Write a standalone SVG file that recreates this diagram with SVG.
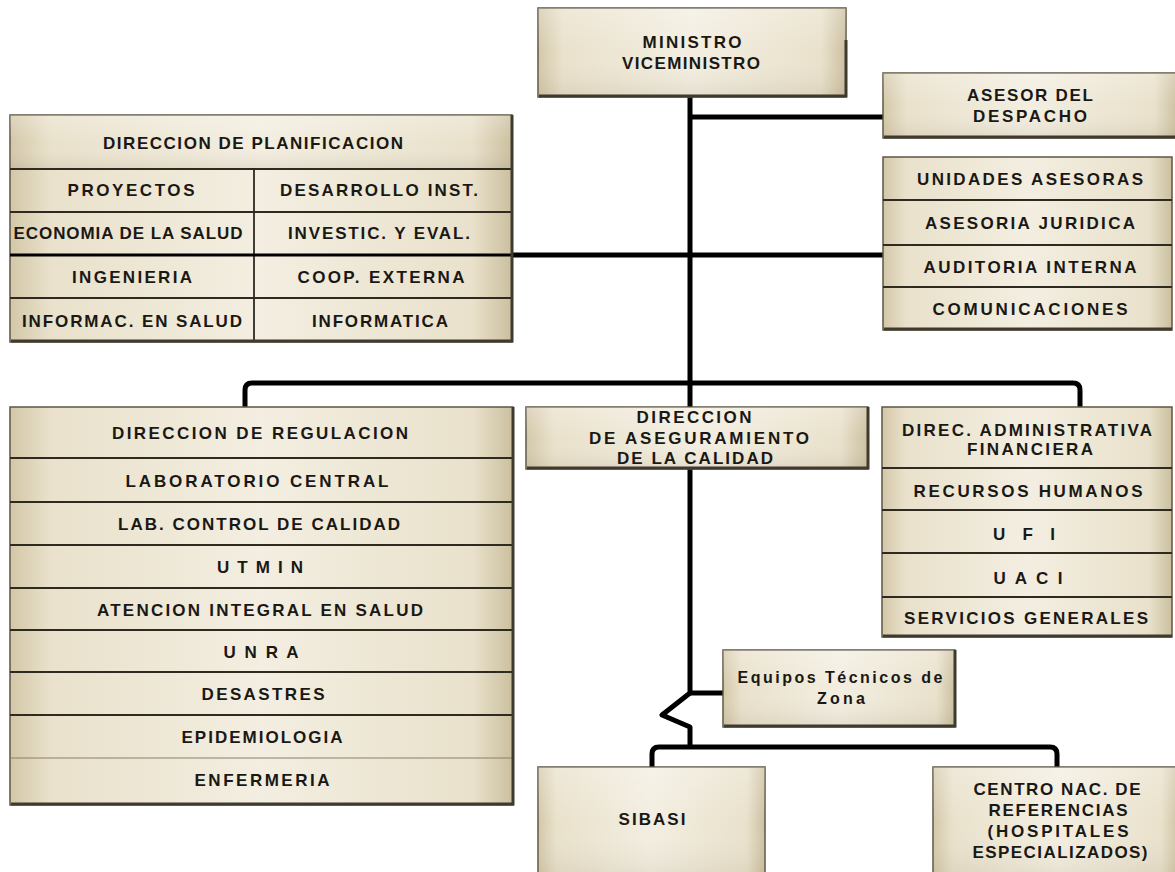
<svg xmlns="http://www.w3.org/2000/svg" width="1175" height="872" viewBox="0 0 1175 872">
<defs>
<linearGradient id="g" x1="0" y1="0" x2="1" y2="0">
<stop offset="0" stop-color="#d3c7a8"/>
<stop offset="0.08" stop-color="#e9e1cb"/>
<stop offset="0.5" stop-color="#f3eee1"/>
<stop offset="0.92" stop-color="#e9e1cb"/>
<stop offset="1" stop-color="#cbbf9e"/>
</linearGradient>
<linearGradient id="gv" x1="0" y1="0" x2="0" y2="1">
<stop offset="0" stop-color="#ffffff" stop-opacity="0.25"/>
<stop offset="0.5" stop-color="#ffffff" stop-opacity="0"/>
<stop offset="1" stop-color="#8a7c5c" stop-opacity="0.15"/>
</linearGradient>
</defs>
<style>
.box{fill:url(#g);stroke:#5e5544;stroke-width:1.5}
.sh{fill:url(#gv);stroke:none}
.bot{stroke:#3f3a2e;stroke-width:3;fill:none}
.div{stroke:#2e2a20;stroke-width:1.8;fill:none}
.t{font-family:"Liberation Sans Narrow","Liberation Sans",Arial,sans-serif;font-weight:bold;font-size:17px;fill:#1a1814;text-anchor:middle}
.c{stroke:#000;stroke-width:5;fill:none;stroke-linejoin:round}
</style>
<rect width="1175" height="872" fill="#ffffff"/>

<g id="connectors">
<path class="c" d="M690 97 V408"/>
<path class="c" d="M690 117 H883"/>
<path class="c" d="M10 255 H883" stroke-width="3.5"/>
<path class="c" d="M245 408 V390 Q245 383 252 383 H1073 Q1080 383 1080 390 V408"/>
<path class="c" d="M690 469 V693 L662 715 L690 727 V747"/>
<path class="c" d="M690 693 H723"/>
<path class="c" d="M652 767 V754 Q652 747 659 747 H1050 Q1057 747 1057 754 V767"/>
</g>

<g id="ministro">
<rect class="box" x="538" y="8" width="308" height="89"/>
<rect class="sh" x="538" y="8" width="308" height="89"/>
<path class="bot" d="M539 96 H846 V40"/>
<text class="t" x="692" y="48" textLength="99" lengthAdjust="spacing">MINISTRO</text>
<text class="t" x="691" y="69" textLength="138" lengthAdjust="spacing">VICEMINISTRO</text>
</g>

<g id="asesor">
<rect class="box" x="883" y="73" width="295" height="65"/>
<rect class="sh" x="883" y="73" width="295" height="65"/>
<path class="bot" d="M884 137 H1178"/>
<text class="t" x="1030" y="101" textLength="126" lengthAdjust="spacing">ASESOR DEL</text>
<text class="t" x="1030" y="122" textLength="114" lengthAdjust="spacing">DESPACHO</text>
</g>

<g id="planificacion">
<rect class="box" x="10" y="115" width="502" height="227"/>
<rect class="sh" x="10" y="115" width="502" height="54"/>
<path class="div" d="M10 169 H512 M10 212 H512 M10 298 H512 M254 169 V342"/>
<path d="M10 255 H512" stroke="#000" stroke-width="3" fill="none"/>
<path class="bot" d="M11 341 H512 V115"/>
<text class="t" x="253" y="149" textLength="300" lengthAdjust="spacing">DIRECCION DE PLANIFICACION</text>
<text class="t" x="131" y="196" textLength="127" lengthAdjust="spacing">PROYECTOS</text>
<text class="t" x="379" y="196" textLength="198" lengthAdjust="spacing">DESARROLLO INST.</text>
<text class="t" x="128" y="239" textLength="229" lengthAdjust="spacing">ECONOMIA DE LA SALUD</text>
<text class="t" x="379" y="239" textLength="182" lengthAdjust="spacing">INVESTIC. Y EVAL.</text>
<text class="t" x="132" y="283" textLength="120" lengthAdjust="spacing">INGENIERIA</text>
<text class="t" x="381" y="283" textLength="167" lengthAdjust="spacing">COOP. EXTERNA</text>
<text class="t" x="132" y="327" textLength="220" lengthAdjust="spacing">INFORMAC. EN SALUD</text>
<text class="t" x="380" y="327" textLength="136" lengthAdjust="spacing">INFORMATICA</text>
</g>

<g id="unidades">
<rect class="box" x="883" y="157" width="289" height="173"/>
<path class="div" d="M883 200 H1172 M883 245 H1172 M883 287 H1172"/>
<path class="bot" d="M884 329 H1172"/>
<text class="t" x="1030" y="185" textLength="226" lengthAdjust="spacing">UNIDADES ASESORAS</text>
<text class="t" x="1030" y="229" textLength="210" lengthAdjust="spacing">ASESORIA JURIDICA</text>
<text class="t" x="1030" y="273" textLength="213" lengthAdjust="spacing">AUDITORIA INTERNA</text>
<text class="t" x="1030" y="315" textLength="195" lengthAdjust="spacing">COMUNICACIONES</text>
</g>

<g id="regulacion">
<rect class="box" x="10" y="407" width="503" height="398"/>
<path class="div" d="M10 458 H513 M10 502 H513 M10 545 H513 M10 588 H513 M10 630 H513 M10 672 H513 M10 715 H513"/>
<path d="M10 758 H513" stroke="#8a7f68" stroke-width="1" fill="none"/>
<path class="bot" d="M11 804 H513 V407"/>
<text class="t" x="260" y="439" textLength="296" lengthAdjust="spacing">DIRECCION DE REGULACION</text>
<text class="t" x="257" y="487" textLength="263" lengthAdjust="spacing">LABORATORIO CENTRAL</text>
<text class="t" x="259" y="530" textLength="282" lengthAdjust="spacing">LAB. CONTROL DE CALIDAD</text>
<text class="t" x="260" y="573" textLength="86" lengthAdjust="spacing">U T M I N</text>
<text class="t" x="260" y="616" textLength="326" lengthAdjust="spacing">ATENCION INTEGRAL EN SALUD</text>
<text class="t" x="261" y="658" textLength="75" lengthAdjust="spacing">U N R A</text>
<text class="t" x="263" y="700" textLength="123" lengthAdjust="spacing">DESASTRES</text>
<text class="t" x="262" y="743" textLength="161" lengthAdjust="spacing">EPIDEMIOLOGIA</text>
<text class="t" x="262" y="786" textLength="135" lengthAdjust="spacing">ENFERMERIA</text>
</g>

<g id="aseguramiento">
<rect class="box" x="526" y="407" width="342" height="62"/>
<rect class="sh" x="526" y="407" width="342" height="62"/>
<path class="bot" d="M527 468 H868 V407"/>
<text class="t" x="694" y="423" textLength="115" lengthAdjust="spacing">DIRECCION</text>
<text class="t" x="699" y="444" textLength="220" lengthAdjust="spacing">DE  ASEGURAMIENTO</text>
<text class="t" x="695" y="464" textLength="156" lengthAdjust="spacing">DE LA CALIDAD</text>
</g>

<g id="administrativa">
<rect class="box" x="882" y="407" width="290" height="230"/>
<path class="div" d="M882 468 H1172 M882 510 H1172 M882 553 H1172 M882 597 H1172"/>
<path class="bot" d="M883 636 H1172"/>
<text class="t" x="1027" y="436" textLength="250" lengthAdjust="spacing">DIREC. ADMINISTRATIVA</text>
<text class="t" x="1030" y="455" textLength="126" lengthAdjust="spacing">FINANCIERA</text>
<text class="t" x="1028" y="497" textLength="229" lengthAdjust="spacing">RECURSOS HUMANOS</text>
<text class="t" x="1024" y="540" textLength="62" lengthAdjust="spacing">U F I</text>
<text class="t" x="1028" y="584" textLength="69" lengthAdjust="spacing">U A C I</text>
<text class="t" x="1026" y="624" textLength="244" lengthAdjust="spacing">SERVICIOS GENERALES</text>
</g>

<g id="equipos">
<rect class="box" x="723" y="650" width="232" height="77"/>
<rect class="sh" x="723" y="650" width="232" height="77"/>
<path class="bot" d="M724 726 H955 V650"/>
<text class="t" x="840" y="683" textLength="205" lengthAdjust="spacing" style="font-size:16px">Equipos Técnicos de</text>
<text class="t" x="841" y="704" textLength="48" lengthAdjust="spacing" style="font-size:16px">Zona</text>
</g>

<g id="sibasi">
<rect class="box" x="538" y="767" width="227" height="113"/>
<rect class="sh" x="538" y="767" width="227" height="113"/>
<text class="t" x="652" y="825" textLength="67" lengthAdjust="spacing">SIBASI</text>
</g>

<g id="centro">
<rect class="box" x="933" y="767" width="248" height="113"/>
<rect class="sh" x="933" y="767" width="248" height="113"/>
<text class="t" x="1057" y="795" textLength="167" lengthAdjust="spacing">CENTRO NAC. DE</text>
<text class="t" x="1058" y="816" textLength="139" lengthAdjust="spacing">REFERENCIAS</text>
<text class="t" x="1058" y="837" textLength="141" lengthAdjust="spacing">(HOSPITALES</text>
<text class="t" x="1060" y="858" textLength="175" lengthAdjust="spacing">ESPECIALIZADOS)</text>
</g>
</svg>
